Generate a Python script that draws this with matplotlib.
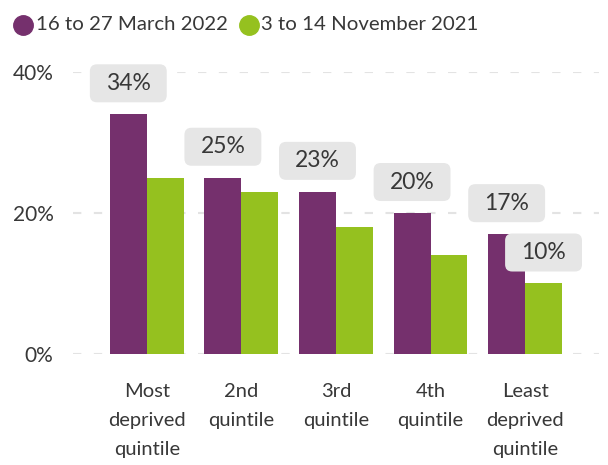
import matplotlib.pyplot as plt
import numpy as np
from matplotlib.patches import FancyBboxPatch
from matplotlib.lines import Line2D

plt.rcParams['font.family'] = ['Lato', 'DejaVu Sans']

groups = ["Most\ndeprived\nquintile", "2nd\nquintile", "3rd\nquintile",
          "4th\nquintile", "Least\ndeprived\nquintile"]
march_2022 = [34, 25, 23, 20, 17]
nov_2021 = [25, 23, 18, 14, 10]
series_names = ["16 to 27 March 2022", "3 to 14 November 2021"]
y_ticks = [0, 20, 40]

purple = '#75306d'
green = '#95c11f'
txt = '#383838'

fig = plt.figure(figsize=(6.08, 4.65), dpi=100)
ax = fig.add_axes([0.12, 0.2387, 0.865, 0.6065])

x = np.arange(len(groups))
w = 0.39
ax.bar(x - w / 2, march_2022, w, color=purple, zorder=2)
ax.bar(x + w / 2, nov_2021, w, color=green, zorder=2)

ax.set_xlim(-0.78, 4.78)
ax.set_ylim(0, 40)
ax.set_yticks(y_ticks)
ax.set_yticklabels([f"{t}%" for t in y_ticks])
ax.set_xticks(x)
ax.set_xticklabels(groups, linespacing=1.85)
ax.tick_params(axis='y', length=0, pad=14, labelsize=15, labelcolor=txt)
ax.tick_params(axis='x', length=0, pad=21, labelsize=14.5, labelcolor=txt)
for s in ax.spines.values():
    s.set_visible(False)
ax.grid(axis='y', color='#e3e3e3', lw=1.5, linestyle=(0, (4, 6)), zorder=0)

# value labels in rounded grey boxes
bw, bh, gap = 0.813, 5.39, 1.7
def value_box(xc, v):
    box = FancyBboxPatch((xc - bw / 2, v + gap), bw, bh,
                         boxstyle='round,pad=0,rounding_size=0.075',
                         mutation_aspect=13.43, fc='#e6e6e6', ec='none',
                         zorder=4, clip_on=False)
    ax.add_patch(box)
    ax.text(xc, v + gap + bh / 2, f"{v}%", ha='center', va='center',
            fontsize=16.5, color=txt, zorder=5, clip_on=False)

for i, v in enumerate(march_2022):
    value_box(x[i] - w / 2, v)
value_box(x[-1] + w / 2, nov_2021[-1])

# legend
ly = 1 - 25 / 465
for cx, tx, col, name in [(22.5, 36, purple, series_names[0]),
                          (249, 261, green, series_names[1])]:
    fig.add_artist(Line2D([cx / 608], [ly], marker='o', markersize=14,
                          color=col, transform=fig.transFigure))
    fig.text(tx / 608, ly, name, ha='left', va='center', fontsize=14.7,
             color=txt)

fig.savefig('out.png', dpi=100)
